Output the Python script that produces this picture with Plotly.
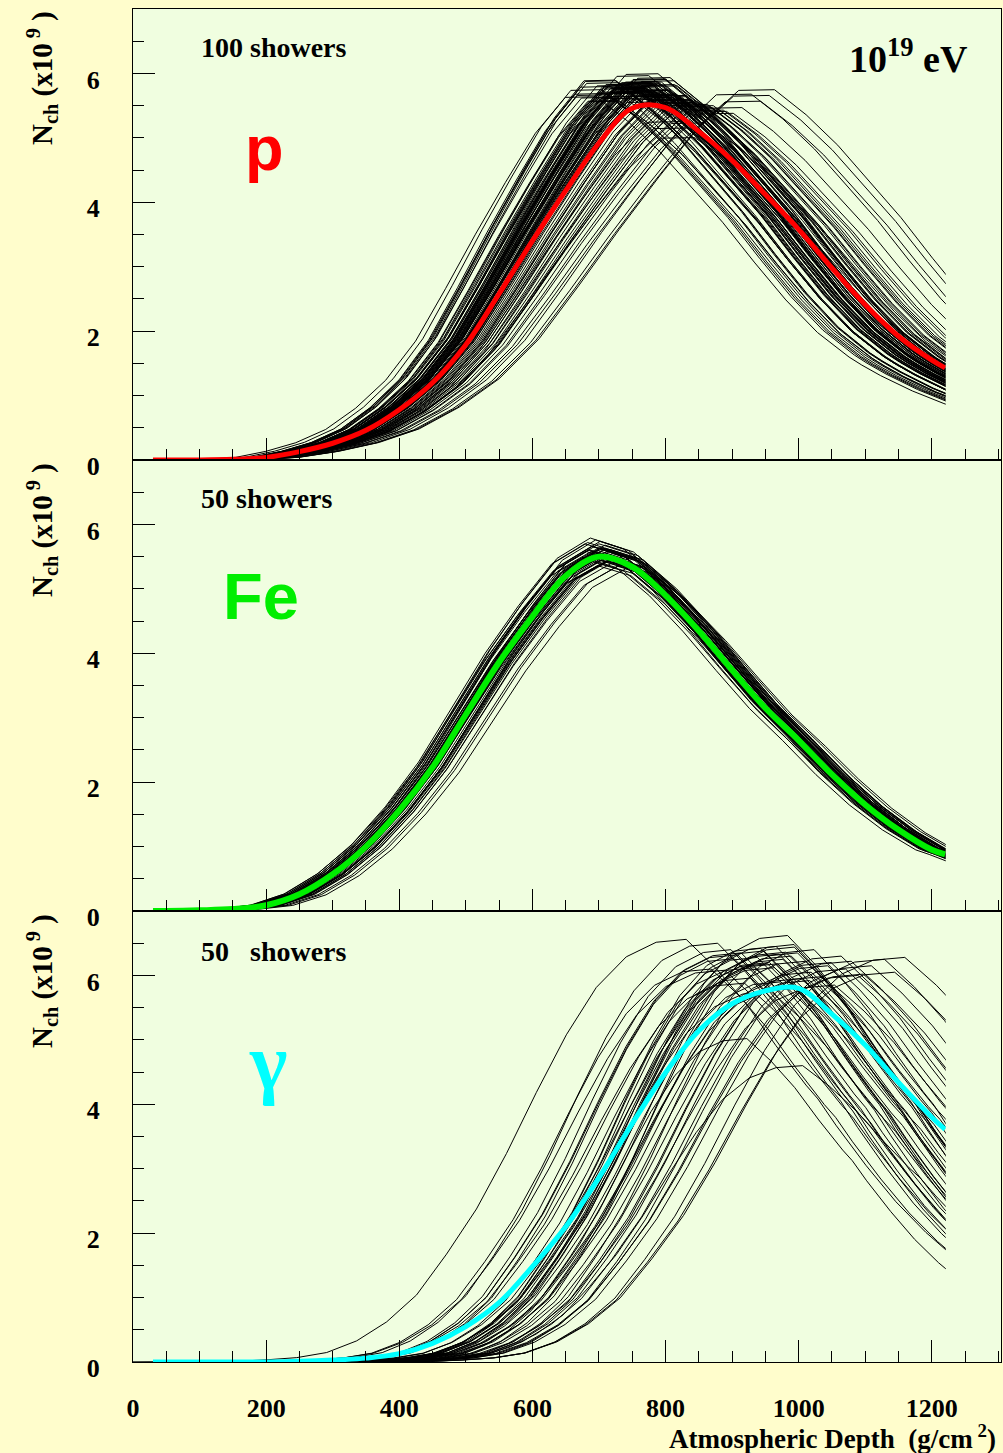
import plotly.graph_objects as go
from plotly.subplots import make_subplots

# Longitudinal development of 10^19 eV air showers: number of charged
# particles (x10^9) versus atmospheric depth (g/cm^2).  Each panel shows the
# individual showers (thin black) and the average profile (thick, coloured).

# ---------------------------------------------------------------- data ----
DEPTH = [30, 50, 100, 150, 200, 250, 300, 350, 400, 450, 500, 550, 600,
         650, 700, 750, 800, 850, 900, 950, 1000, 1050, 1100, 1150, 1200,
         1220, 1250, 1300, 1350, 1400, 1450, 1500]
DEPTH_END = 1220          # last depth of the profiles

# average profiles
P_MEAN = [0, 0, 0, 0.01, 0.04, 0.13, 0.26, 0.46, 0.78, 1.20, 1.79, 2.58, 3.40,
          4.18, 4.92, 5.46, 5.47, 5.10, 4.65, 4.12, 3.58, 2.98, 2.41, 1.92, 1.55,
          1.43, 1.27, 1.04, 0.85, 0.69, 0.56, 0.45]
FE_MEAN = [0, 0, 0.01, 0.03, 0.09, 0.26, 0.57, 1.00, 1.56, 2.23, 3.05, 3.86, 4.57,
           5.20, 5.50, 5.34, 4.90, 4.35, 3.74, 3.15, 2.65, 2.12, 1.65, 1.26, 0.95,
           0.88, 0.76, 0.60, 0.47, 0.37, 0.29, 0.23]
G_MEAN = [0, 0, 0, 0, 0, 0.01, 0.03, 0.06, 0.13, 0.29, 0.55, 0.92, 1.48,
          2.10, 2.86, 3.70, 4.49, 5.14, 5.56, 5.76, 5.80, 5.40, 4.92, 4.34, 3.80,
          3.61, 3.25, 2.70, 2.20, 1.78, 1.42, 1.12]

# maximum of each average profile (depth, size)
P_PEAK_DEPTH, P_PEAK_N = 775, 5.52
FE_PEAK_DEPTH, FE_PEAK_N = 705, 5.52
G_PEAK_DEPTH, G_PEAK_N = 990, 5.80

# individual showers: depth of maximum, size at maximum and the relative
# widths of the rising and falling sides of the profile
P_XMAX = [732, 768, 704, 801, 756, 825, 744, 700, 779, 863,
          750, 788, 722, 835, 764, 690, 810, 746, 772, 891,
          738, 783, 760, 707, 848, 776, 753, 806, 729, 680,
          792, 767, 820, 741, 759, 878, 774, 726, 797, 751,
          702, 839, 782, 765, 748, 816, 735, 694, 855, 770,
          757, 790, 723, 829, 762, 919, 743, 777, 808, 731,
          672, 786, 754, 842, 771, 720, 803, 747, 765, 932,
          780, 739, 818, 758, 696, 794, 773, 868, 734, 761,
          813, 745, 783, 727, 905, 767, 749, 799, 686, 832,
          755, 778, 706, 846, 763, 940, 737, 789, 752, 807]
P_NMAX = [5.82, 5.74, 5.91, 5.66, 5.88, 5.61, 5.79, 5.95, 5.70, 5.48,
          5.85, 5.68, 5.77, 5.28, 5.93, 5.72, 5.64, 5.81, 5.76, 5.52,
          5.89, 5.71, 5.84, 5.62, 5.55, 5.97, 5.78, 5.69, 5.86, 5.80,
          5.73, 5.90, 5.05, 5.83, 5.75, 5.43, 5.87, 5.67, 5.71, 6.02,
          5.94, 5.57, 5.79, 5.65, 5.82, 5.63, 5.76, 5.85, 5.50, 5.92,
          5.70, 5.88, 5.74, 5.59, 5.81, 5.62, 5.77, 5.96, 5.20, 5.84,
          5.69, 5.73, 5.90, 5.54, 5.78, 5.87, 5.64, 5.83, 6.05, 5.71,
          5.80, 5.75, 5.60, 5.92, 5.68, 5.86, 5.72, 5.46, 5.89, 5.77,
          5.65, 5.83, 5.99, 5.70, 5.73, 5.61, 5.85, 5.30, 5.74, 5.56,
          5.91, 5.79, 5.63, 5.52, 5.88, 5.80, 5.76, 5.94, 5.67, 5.71]
P_RISE_W = [0.94, 0.98, 0.90, 1.02, 0.96, 1.05, 0.95, 0.90, 0.99, 1.10,
            0.96, 1.00, 0.93, 1.06, 0.97, 0.89, 1.03, 0.95, 0.98, 1.14,
            0.94, 0.99, 0.97, 0.90, 1.08, 0.99, 0.96, 1.02, 0.93, 0.89,
            1.00, 0.98, 1.04, 0.95, 0.97, 1.12, 0.98, 0.93, 1.01, 0.96,
            0.90, 1.07, 0.99, 0.97, 0.95, 1.03, 0.94, 0.89, 1.09, 0.98,
            0.96, 1.00, 0.93, 1.05, 0.97, 1.17, 0.95, 0.99, 1.02, 0.94,
            0.90, 1.00, 0.96, 1.07, 0.98, 0.92, 1.02, 0.95, 0.97, 1.19,
            0.99, 0.94, 1.04, 0.96, 0.89, 1.01, 0.98, 1.11, 0.94, 0.97,
            1.03, 0.95, 0.99, 0.93, 1.15, 0.98, 0.95, 1.01, 0.88, 1.06,
            0.96, 0.99, 0.90, 1.08, 0.97, 1.20, 0.94, 1.00, 0.96, 1.02]
P_FALL_W = 0.95

FE_XMAX = [704, 690, 718, 709, 697, 724, 684, 712, 700, 720,
           693, 708, 715, 699, 728, 688, 706, 717, 695, 711,
           722, 703, 686, 714, 698, 745, 707, 692, 719, 702,
           726, 710, 696, 705, 681, 721, 709, 694, 704, 733,
           690, 716, 707, 699, 725, 705, 693, 712, 738, 701]
FE_NMAX = [5.53, 5.62, 5.45, 5.66, 5.57, 5.49, 5.72, 5.54, 5.78, 5.47,
           5.60, 5.41, 5.65, 5.56, 5.50, 5.74, 5.58, 5.46, 5.68, 5.54,
           5.63, 5.38, 5.60, 5.70, 5.49, 5.33, 5.57, 5.81, 5.52, 5.62,
           5.43, 5.65, 5.56, 5.72, 5.51, 5.60, 5.47, 5.68, 5.58, 5.37,
           5.63, 5.54, 5.76, 5.49, 5.57, 5.66, 5.45, 5.62, 5.40, 5.55]
FE_RISE_W = 1.0
FE_FALL_W = 1.0

G_XMAX = [822, 905, 948, 1010, 975, 930, 1062, 890, 995, 1120,
          958, 915, 1035, 980, 870, 1088, 940, 1002, 965, 1150,
          925, 985, 1045, 900, 960, 1015, 880, 1070, 950, 990,
          1025, 935, 1100, 968, 910, 1055, 998, 945, 860, 1135,
          972, 920, 1040, 985, 955, 1008, 895, 1080, 962, 986]
G_NMAX = [6.56, 6.35, 6.20, 6.05, 6.62, 6.28, 6.10, 6.40, 5.95, 6.25,
          6.45, 5.02, 6.15, 6.30, 6.50, 6.02, 6.38, 6.22, 5.90, 6.28,
          6.12, 6.48, 5.85, 6.32, 6.18, 6.40, 6.08, 6.22, 5.75, 6.35,
          5.98, 6.42, 6.15, 6.25, 5.88, 6.30, 4.60, 6.18, 6.10, 6.05,
          6.36, 5.96, 6.20, 6.44, 6.12, 5.92, 6.26, 6.00, 6.33, 5.80]
G_WIDTH = [0.90, 0.85, 0.82, 0.88, 0.84, 0.80, 0.86, 0.83, 0.87, 0.90,
           0.82, 0.72, 0.85, 0.88, 0.84, 0.92, 0.81, 0.86, 0.83, 0.95,
           0.87, 0.80, 0.89, 0.84, 0.86, 0.82, 0.88, 0.90, 0.85, 0.83,
           0.87, 0.81, 0.92, 0.84, 0.86, 0.88, 0.80, 0.83, 0.85, 0.93,
           0.86, 0.82, 0.87, 0.84, 0.88, 0.85, 0.81, 0.90, 0.83, 0.86]

X_TICKS = [0, 200, 400, 600, 800, 1000, 1200]
Y_TICKS = [0, 2, 4, 6]

# -------------------------------------------------------------- styling ----
PAPER_BG = "#FFFDCC"
PLOT_BG = "#F0FEE0"
SERIF = "Liberation Serif"
SANS = "Liberation Sans"
X_RANGE = [0, 1304]
Y_RANGE = [0, 7]

W, H = 1003, 1453
ML, MR, MT, MB = 133, 2, 9, 91


def px_x(px):
    return (px - ML) / (W - ML - MR)


def px_y(py):
    return (H - MB - py) / (H - MT - MB)


def per_shower(value, n):
    return value if isinstance(value, list) else [value] * n


def shower_lines(mean, peak_depth, peak_n, xmax, nmax, rise_w, fall_w):
    """Each shower follows the panel's average shape, moved to its own
    maximum, stretched by its own widths and scaled to its own size."""
    n = len(xmax)
    xs, ys = [], []
    for xm, nm, wr, wf in zip(xmax, nmax, per_shower(rise_w, n),
                              per_shower(fall_w, n)):
        for d, v in zip(DEPTH, mean):
            w = wr if d < peak_depth else wf
            x = xm + (d - peak_depth) * w
            xs.append(x)
            ys.append(v * nm / peak_n)
            if x > DEPTH_END:
                break
        xs.append(None)
        ys.append(None)
    return xs, ys


panels = [
    dict(mean=P_MEAN, pd=P_PEAK_DEPTH, pn=P_PEAK_N, xmax=P_XMAX, nmax=P_NMAX,
         rise=P_RISE_W, fall=P_FALL_W, color="#FF0000", lw=5),
    dict(mean=FE_MEAN, pd=FE_PEAK_DEPTH, pn=FE_PEAK_N, xmax=FE_XMAX,
         nmax=FE_NMAX, rise=FE_RISE_W, fall=FE_FALL_W, color="#00EE00", lw=6),
    dict(mean=G_MEAN, pd=G_PEAK_DEPTH, pn=G_PEAK_N, xmax=G_XMAX, nmax=G_NMAX,
         rise=G_WIDTH, fall=G_WIDTH, color="#00FFFF", lw=5),
]

fig = make_subplots(rows=3, cols=1, vertical_spacing=0)

for row, p in enumerate(panels, start=1):
    sx, sy = shower_lines(p["mean"], p["pd"], p["pn"], p["xmax"], p["nmax"],
                          p["rise"], p["fall"])
    fig.add_trace(go.Scatter(x=sx, y=sy, mode="lines",
                             line=dict(color="black", width=1),
                             hoverinfo="skip"), row=row, col=1)
    mx = [d for d in DEPTH if d <= DEPTH_END]
    my = p["mean"][:len(mx)]
    fig.add_trace(go.Scatter(x=mx, y=my, mode="lines",
                             line=dict(color=p["color"], width=p["lw"],
                                       shape="spline", smoothing=1.0),
                             hoverinfo="skip"), row=row, col=1)
    # profiles stop at the last sampled depth
    fig.add_shape(type="rect", xref="x" if row == 1 else f"x{row}",
                  yref="y" if row == 1 else f"y{row}",
                  x0=DEPTH_END + 1, x1=1300, y0=0.22, y1=6.97,
                  fillcolor=PLOT_BG, line=dict(width=0), layer="above")

    fig.update_xaxes(range=X_RANGE, showgrid=False, zeroline=False,
                     showline=True, linecolor="black", linewidth=1, mirror=True,
                     ticks="inside", ticklen=22, tickwidth=1, tickcolor="black",
                     tickvals=X_TICKS, ticktext=[str(v) for v in X_TICKS],
                     minor=dict(ticks="inside", ticklen=11, dtick=50, tick0=0,
                                tickcolor="black", tickwidth=1, showgrid=False),
                     showticklabels=(row == 3),
                     tickfont=dict(family=SERIF, size=26, color="black",
                                   weight="bold"),
                     ticklabelstandoff=23,
                     row=row, col=1)
    fig.update_yaxes(range=Y_RANGE, showgrid=False, zeroline=False,
                     showline=True, linecolor="black", linewidth=1, mirror=True,
                     ticks="inside", ticklen=22, tickwidth=1, tickcolor="black",
                     tickvals=Y_TICKS, ticktext=[str(v) for v in Y_TICKS],
                     minor=dict(ticks="inside", ticklen=11, dtick=0.5, tick0=0,
                                tickcolor="black", tickwidth=1, showgrid=False),
                     tickfont=dict(family=SERIF, size=26, color="black",
                                   weight="bold"),
                     ticklabelstandoff=27, ticklabelshift=6,
                     row=row, col=1)


def bold_serif(size, color="black"):
    return dict(family=SERIF, size=size, color=color, weight="bold")


annotations = [
    dict(text="100 showers", x=px_x(199), y=px_y(48), xanchor="left",
         yanchor="middle", font=bold_serif(28)),
    dict(text="50 showers", x=px_x(199), y=px_y(498), xanchor="left",
         yanchor="middle", font=bold_serif(28)),
    dict(text="50\u00a0\u00a0\u00a0showers", x=px_x(199), y=px_y(951),
         xanchor="left", yanchor="middle", font=bold_serif(28)),
    dict(text="10<sup>19</sup> eV", x=px_x(970), y=px_y(56), xanchor="right",
         yanchor="middle", font=bold_serif(38)),
    dict(text="p", x=px_x(264), y=px_y(148), xanchor="center",
         yanchor="middle",
         font=dict(family=SANS, size=63, color="#FF0000", weight="bold")),
    dict(text="Fe", x=px_x(261), y=px_y(596), xanchor="center",
         yanchor="middle",
         font=dict(family=SANS, size=65, color="#00EE00", weight="bold")),
    dict(text="\u03b3", x=px_x(268), y=px_y(1062), xanchor="center",
         yanchor="middle", font=bold_serif(80, "#00FFFF")),
    dict(text="Atmospheric Depth\u00a0\u00a0(g/cm<sup> 2</sup>)", x=px_x(998),
         y=px_y(1437), xanchor="right", yanchor="middle",
         font=bold_serif(27)),
]
for yc in (78, 530, 981):
    annotations.append(dict(text="N<sub>ch</sub> (x10<sup> 9</sup> )",
                            x=px_x(42), y=px_y(yc), xanchor="center",
                            yanchor="middle", textangle=-90,
                            font=bold_serif(29)))

for a in annotations:
    a.update(xref="paper", yref="paper", showarrow=False)

fig.update_layout(width=W, height=H,
                  margin=dict(l=ML, r=MR, t=MT, b=MB, pad=0),
                  paper_bgcolor=PAPER_BG, plot_bgcolor=PLOT_BG,
                  showlegend=False, annotations=annotations)

fig.write_html("out.html")
